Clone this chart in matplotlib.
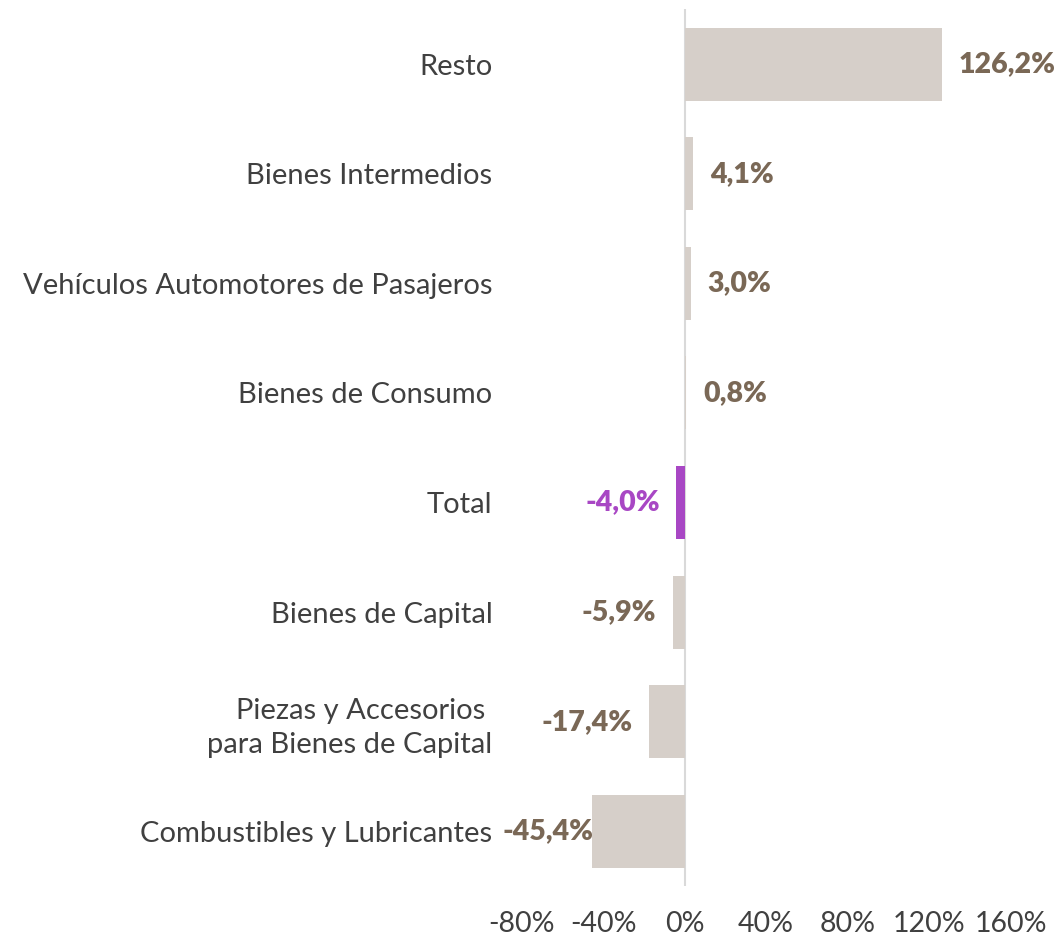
import matplotlib
matplotlib.use("Agg")
import matplotlib.pyplot as plt
from matplotlib.ticker import FuncFormatter

categories = ["Resto", "Bienes Intermedios", "Vehículos Automotores de Pasajeros",
              "Bienes de Consumo", "Total", "Bienes de Capital",
              "Piezas y Accesorios \npara Bienes de Capital", "Combustibles y Lubricantes"]
values = [126.2, 4.1, 3.0, 0.8, -4.0, -5.9, -17.4, -45.4]
highlight = "Total"
xticks = [-80, -40, 0, 40, 80, 120, 160]

bar_color = "#D6CFC9"
hl_color = "#A847C4"
lbl_color = "#7A6856"
text_color = "#404040"

plt.rcParams['font.family'] = ['Lato', 'DejaVu Sans']

fig = plt.figure(figsize=(10.56, 9.4), dpi=100)
ax = fig.add_axes([0.494, 0.0574, 0.463, 0.9326])

ypos = list(range(len(categories)))
colors = [hl_color if c == highlight else bar_color for c in categories]
ax.barh(ypos, values, height=0.665, color=colors, zorder=2)
ax.axvline(0, color="#D9D9D9", lw=1.5, zorder=1)

ax.set_xlim(-80, 160)
ax.set_ylim(len(categories) - 0.5, -0.5)
ax.set_xticks(xticks)
ax.xaxis.set_major_formatter(FuncFormatter(lambda x, p: f"{x:.0f}%"))
ax.set_yticks(ypos)
ax.set_yticklabels(categories, linespacing=1.35)
ax.tick_params(axis="y", length=0, pad=21, labelsize=21, labelcolor=text_color)
ax.tick_params(axis="x", length=0, pad=18, labelsize=20.5, labelcolor=text_color)
for s in ax.spines.values():
    s.set_visible(False)

fig.canvas.draw()
renderer = fig.canvas.get_renderer()
ax_left_px = ax.get_window_extent(renderer).x0
min_left = ax_left_px - 19  # keep label clear of category names

for y, v, c in zip(ypos, values, categories):
    txt = f"{v:.1f}%".replace(".", ",")
    col = hl_color if c == highlight else lbl_color
    if v >= 0:
        ax.annotate(txt, (v, y), xytext=(12, 0), textcoords="offset points",
                    ha="left", va="center", fontsize=20.5, fontweight="heavy", color=col)
    else:
        t = ax.annotate(txt, (v, y), xytext=(-12, 0), textcoords="offset points",
                        ha="right", va="center", fontsize=20.5, fontweight="heavy", color=col)
        bb = t.get_window_extent(renderer)
        if bb.x0 < min_left:
            shift_pt = (min_left - bb.x0) * 72 / fig.dpi
            t.set_position((-12 + shift_pt, 0))

fig.savefig("out.png", dpi=100)
